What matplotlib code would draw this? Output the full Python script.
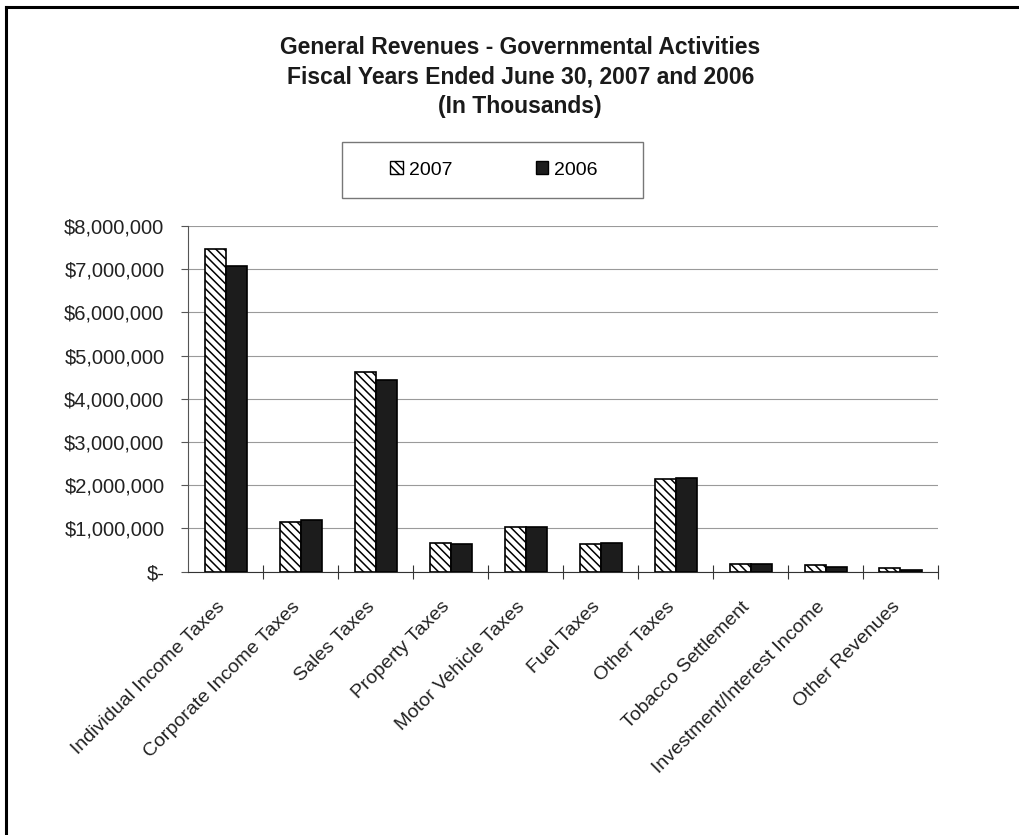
import matplotlib
matplotlib.use("Agg")
import matplotlib.pyplot as plt
import numpy as np
import matplotlib.transforms as mtransforms
from matplotlib.ticker import FuncFormatter, FixedLocator
from matplotlib.patches import Patch, Rectangle
from matplotlib.lines import Line2D

categories = ["Individual Income Taxes", "Corporate Income Taxes", "Sales Taxes",
              "Property Taxes", "Motor Vehicle Taxes", "Fuel Taxes", "Other Taxes",
              "Tobacco Settlement", "Investment/Interest Income", "Other Revenues"]
values_2007 = [7470000, 1160000, 4610000, 670000, 1030000, 640000, 2150000, 180000, 150000, 85000]
values_2006 = [7080000, 1200000, 4430000, 630000, 1040000, 660000, 2170000, 180000, 100000, 40000]
series_labels = ["2007", "2006"]
title_lines = ["General Revenues - Governmental Activities",
               "Fiscal Years Ended June 30, 2007 and 2006",
               "(In Thousands)"]

plt.rcParams['font.family'] = ['Liberation Sans', 'DejaVu Sans']
plt.rcParams['hatch.linewidth'] = 1.1

fig = plt.figure(figsize=(10.2, 8.35), dpi=100)
ax = fig.add_axes([188/1020, 1-571.7/835, 750/1020, (571.7-226)/835])

x = np.arange(len(categories))
w = 0.28
ax.bar(x - w/2, values_2007, width=w, facecolor='white', edgecolor='black',
       hatch='\\\\\\\\', linewidth=1.2, zorder=3)
ax.bar(x + w/2, values_2006, width=w, facecolor='#1c1c1c', edgecolor='black',
       linewidth=1.2, zorder=3)

ax.set_xlim(-0.5, len(categories) - 0.5)
ax.set_ylim(0, 8000000)
ax.set_yticks(np.arange(0, 8000001, 1000000))
ax.yaxis.set_major_formatter(FuncFormatter(lambda v, p: "$-" if v == 0 else f"${v:,.0f}"))
ax.grid(axis='y', color='#9a9a9a', linewidth=0.8, zorder=0)
for s in ['top', 'right']:
    ax.spines[s].set_visible(False)
ax.spines['left'].set_color('#555555')
ax.spines['bottom'].set_color('#333333')

ax.xaxis.set_major_locator(FixedLocator(np.arange(-0.5, len(categories), 1.0)[1:]))
ax.xaxis.set_ticklabels([])
ax.tick_params(axis='x', which='major', direction='inout', length=10, color='#333333')
ax.xaxis.set_minor_locator(FixedLocator(x))
labels = ax.set_xticklabels(categories, minor=True, rotation=45, ha='right',
                            rotation_mode='anchor', fontsize=14, color='#222222')
ax.tick_params(axis='x', which='minor', length=0, pad=19)
offset = mtransforms.ScaledTranslation(-9/100, 0, fig.dpi_scale_trans)
for lab in ax.get_xticklabels(minor=True):
    lab.set_transform(lab.get_transform() + offset)
ax.tick_params(axis='y', direction='out', length=5, color='#555555', labelsize=14.5,
               labelcolor='#222222', pad=12)

for i, line in enumerate(title_lines):
    fig.text(0.51, 1 - (47 + 30*i)/835, line, ha='center', va='center',
             fontsize=16.5, fontweight='bold', color='#1a1a1a')

# legend box
fig.add_artist(Rectangle((342/1020, 1-198/835), 301/1020, 56/835, transform=fig.transFigure,
                         facecolor='white', edgecolor='#777777', linewidth=1.0))
handles = [Patch(facecolor='white', edgecolor='black', hatch='\\\\\\\\'),
           Patch(facecolor='#1c1c1c', edgecolor='black')]
leg = fig.legend(handles, series_labels, loc='center', bbox_to_anchor=(494/1020, 1-170/835),
                 ncol=2, frameon=False, fontsize=14, handlelength=0.65,
                 handleheight=0.65, handletextpad=0.3, columnspacing=4.3)

fig.add_artist(Line2D([6/1020, 6/1020], [0, 1-7/835], color='black', linewidth=2.2,
                      transform=fig.transFigure))
fig.add_artist(Line2D([6/1020, 1], [1-7/835, 1-7/835], color='black', linewidth=2.2,
                      transform=fig.transFigure))

fig.savefig("out.png", dpi=100, facecolor='white')
